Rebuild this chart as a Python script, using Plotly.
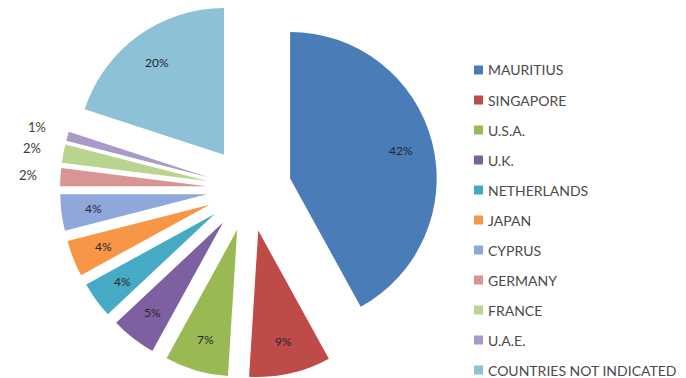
import math
import plotly.graph_objects as go

# Share of investment by country of origin
countries = ["MAURITIUS", "SINGAPORE", "U.S.A.", "U.K.", "NETHERLANDS", "JAPAN",
             "CYPRUS", "GERMANY", "FRANCE", "U.A.E.", "COUNTRIES NOT INDICATED"]
shares = [42, 9, 7, 5, 4, 4, 4, 2, 2, 1, 20]
colors = ["#4A7CB8", "#BE4B48", "#98B954", "#7D60A0", "#46AAC5", "#F79646",
          "#8EA8DA", "#D89593", "#B9D48E", "#A99BC9", "#8DC2D6"]

W, H = 686, 378
cx = 249           # pie centre, px from left
half = 190         # half width of the pie domain, px
PULL = 0.29

fig = go.Figure(go.Pie(
    labels=countries,
    values=shares,
    textinfo="none",
    sort=False,
    direction="clockwise",
    rotation=0,
    pull=[PULL] * len(shares),
    marker=dict(colors=colors, line=dict(width=0)),
    domain=dict(x=[(cx - half) / W, (cx + half) / W], y=[0, 1]),
    showlegend=False,
    automargin=False,
    hovertemplate="%{label}: %{value}%<extra></extra>",
))

# Percentage labels placed along each slice's bisector
radius = min(2 * half, H) / (2 + 2 * PULL)
offset = PULL * radius
cy = H / 2
total = sum(shares)
annotations = []
cum = 0
for v in shares:
    theta = 2 * math.pi * (cum + v / 2) / total
    cum += v
    if v <= 2:
        dist = offset + radius + 32
        col = "#404040"
        size = 13
    else:
        dist = offset + 0.78 * radius
        col = "#262633"
        size = 12
    px = cx + dist * math.sin(theta)
    py = cy - dist * math.cos(theta)
    annotations.append(dict(text=f"{v}%", xref="paper", yref="paper",
                            x=px / W, y=1 - py / H, xanchor="center", yanchor="middle",
                            showarrow=False,
                            font=dict(family="Lato", size=size, color=col)))

# Legend drawn as colour squares with labels
shapes = []
y0 = 70
step = 30
for i, (name, col) in enumerate(zip(countries, colors)):
    y = y0 + i * step
    shapes.append(dict(type="rect", xref="paper", yref="paper",
                       x0=474 / W, x1=483 / W,
                       y0=1 - (y + 4.5) / H, y1=1 - (y - 4.5) / H,
                       fillcolor=col, line=dict(width=0)))
    annotations.append(dict(text=name, xref="paper", yref="paper",
                            x=486 / W, y=1 - y / H, xanchor="left", yanchor="middle",
                            showarrow=False,
                            font=dict(family="Lato", size=14, color="#4a4a4a")))

fig.update_layout(
    width=W, height=H, autosize=False,
    margin=dict(l=0, r=0, t=0, b=0, pad=0, autoexpand=False),
    paper_bgcolor="white",
    plot_bgcolor="white",
    shapes=shapes,
    annotations=annotations,
)

fig.write_html("out.html")
